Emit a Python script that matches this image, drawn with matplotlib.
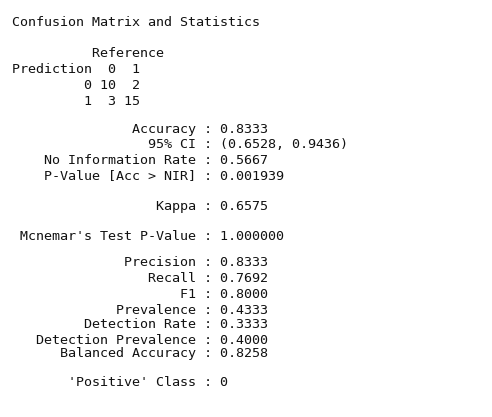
import matplotlib
matplotlib.use("Agg")
import matplotlib.pyplot as plt

# console output lines and their pixel rows (top of image = 0)
lines = [
    "Confusion Matrix and Statistics",
    "          Reference",
    "Prediction  0  1",
    "         0 10  2",
    "         1  3 15",
    "               Accuracy : 0.8333",
    "                 95% CI : (0.6528, 0.9436)",
    "    No Information Rate : 0.5667",
    "    P-Value [Acc > NIR] : 0.001939",
    "                  Kappa : 0.6575",
    " Mcnemar's Test P-Value : 1.000000",
    "              Precision : 0.8333",
    "                 Recall : 0.7692",
    "                     F1 : 0.8000",
    "             Prevalence : 0.4333",
    "         Detection Rate : 0.3333",
    "   Detection Prevalence : 0.4000",
    "      Balanced Accuracy : 0.8258",
    "       'Positive' Class : 0",
]
rows = [22, 53, 69, 85, 101, 129, 144, 160, 176, 206, 236,
        263, 279, 294, 310, 325, 340, 354, 383]

W, H = 492, 417
fig = plt.figure(figsize=(W / 100, H / 100), dpi=100)
ax = fig.add_axes([0, 0, 1, 1])
ax.set_xlim(0, W)
ax.set_ylim(H, 0)
ax.axis("off")

for txt, y in zip(lines, rows):
    ax.text(12, y, txt, family="DejaVu Sans Mono", fontsize=9.6,
            color="#111111", va="center", ha="left")

fig.savefig("out.png", dpi=100, facecolor="white")
